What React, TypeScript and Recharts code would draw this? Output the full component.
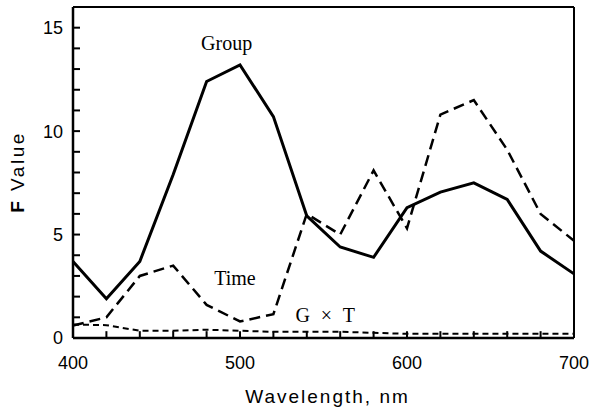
import React from "react";
import {
  LineChart,
  Line,
  XAxis,
  YAxis,
  ReferenceLine,
  ReferenceDot,
} from "recharts";

const wavelengths = [400, 420, 440, 460, 480, 500, 520, 540, 560, 580, 600, 620, 640, 660, 680, 700];
const groupF = [3.7, 1.9, 3.7, 7.9, 12.4, 13.2, 10.7, 5.9, 4.4, 3.9, 6.3, 7.05, 7.5, 6.7, 4.2, 3.1];
const timeF = [0.6, 1.0, 3.0, 3.5, 1.6, 0.8, 1.15, 6.0, 5.0, 8.1, 5.3, 10.8, 11.5, 9.1, 6.0, 4.7];
const gxtF = [0.65, 0.62, 0.35, 0.35, 0.4, 0.35, 0.3, 0.3, 0.3, 0.25, 0.2, 0.2, 0.2, 0.2, 0.2, 0.2];

const xTicks = [400, 420, 440, 460, 480, 500, 520, 540, 560, 580, 600, 620, 640, 660, 680, 700];
const xLabelTicks = [400, 500, 600, 700];
const yTicks = [0, 1, 2, 3, 4, 5, 6, 7, 8, 9, 10, 11, 12, 13, 14, 15];
const yLabelTicks = [0, 5, 10, 15];

const data = wavelengths.map((w, i) => ({
  w,
  group: groupF[i],
  time: timeF[i],
  gxt: gxtF[i],
}));

const sans = "'Liberation Sans', Arial, sans-serif";
const serif = "'Liberation Serif', 'Times New Roman', serif";

const YTitle = () => (
  <text
    x={24}
    y={172}
    transform="rotate(-90, 24, 172)"
    textAnchor="middle"
    fontFamily={sans}
    fontSize={19}
    letterSpacing={2.5}
    fill="#000"
  >
    <tspan fontWeight="bold">F</tspan> Value
  </text>
);

const note = (text: string) => (props: any) => {
  const { x, y } = props.viewBox;
  return (
    <text
      x={x}
      y={y}
      dy={6}
      textAnchor="middle"
      fontFamily={serif}
      fontSize={20}
      wordSpacing={6}
      fill="#000"
    >
      {text}
    </text>
  );
};

export default function App() {
  return (
    <div style={{ position: "absolute", left: 0, top: 0, background: "#fff" }}>
      <LineChart width={592} height={413} data={data} margin={{ top: 7, right: 18, left: 0, bottom: 0 }}>
        <XAxis
          dataKey="w"
          type="number"
          domain={[400, 700]}
          ticks={xTicks}
          interval={0}
          height={75}
          tickSize={0}
          tickMargin={18}
          tickLine={false}
          tick={{ fontFamily: sans, fontSize: 18, fill: "#000" }}
          tickFormatter={(v: number) => (xLabelTicks.includes(v) ? String(v) : "")}
          axisLine={{ stroke: "#000", strokeWidth: 2.5 }}
          label={{
            value: "Wavelength, nm",
            position: "insideBottom",
            offset: 10,
            fontFamily: sans,
            fontSize: 19,
            letterSpacing: 2,
            fill: "#000",
            dx: 4,
          }}
        />
        <YAxis
          type="number"
          domain={[0, 16]}
          ticks={yTicks}
          interval={0}
          width={73}
          tickSize={0}
          tickMargin={10}
          tickLine={false}
          tick={{ fontFamily: sans, fontSize: 18, fill: "#000" }}
          tickFormatter={(v: number) => (yLabelTicks.includes(v) ? String(v) : "")}
          axisLine={{ stroke: "#000", strokeWidth: 2.5 }}
          label={{ content: YTitle }}
        />
        <ReferenceLine y={16} stroke="#000" strokeWidth={2} />
        <ReferenceLine x={700} stroke="#000" strokeWidth={2} />
        {/* inward tick marks, drawn through the chart scales */}
        {xTicks.map((t) => (
          <ReferenceLine
            key={"xt" + t}
            segment={[{ x: t, y: 0 }, { x: t, y: 0.33 }]}
            stroke="#000"
            strokeWidth={2}
            ifOverflow="visible"
          />
        ))}
        {yTicks.map((t) => (
          <ReferenceLine
            key={"yt" + t}
            segment={[{ x: 400, y: t }, { x: 404.2, y: t }]}
            stroke="#000"
            strokeWidth={2}
            ifOverflow="visible"
          />
        ))}
        <Line
          dataKey="gxt"
          stroke="#000"
          strokeWidth={2}
          strokeDasharray="6 4"
          dot={false}
          isAnimationActive={false}
        />
        <Line
          dataKey="time"
          stroke="#000"
          strokeWidth={2.5}
          strokeDasharray="11 6"
          dot={false}
          isAnimationActive={false}
        />
        <Line
          dataKey="group"
          stroke="#000"
          strokeWidth={3}
          dot={false}
          isAnimationActive={false}
        />
        <ReferenceDot x={492} y={14.2} r={0} stroke="none" label={{ content: note("Group") }} />
        <ReferenceDot x={497} y={2.85} r={0} stroke="none" label={{ content: note("Time") }} />
        <ReferenceDot x={551} y={1.06} r={0} stroke="none" label={{ content: note("G \u00d7 T") }} />
      </LineChart>
    </div>
  );
}
